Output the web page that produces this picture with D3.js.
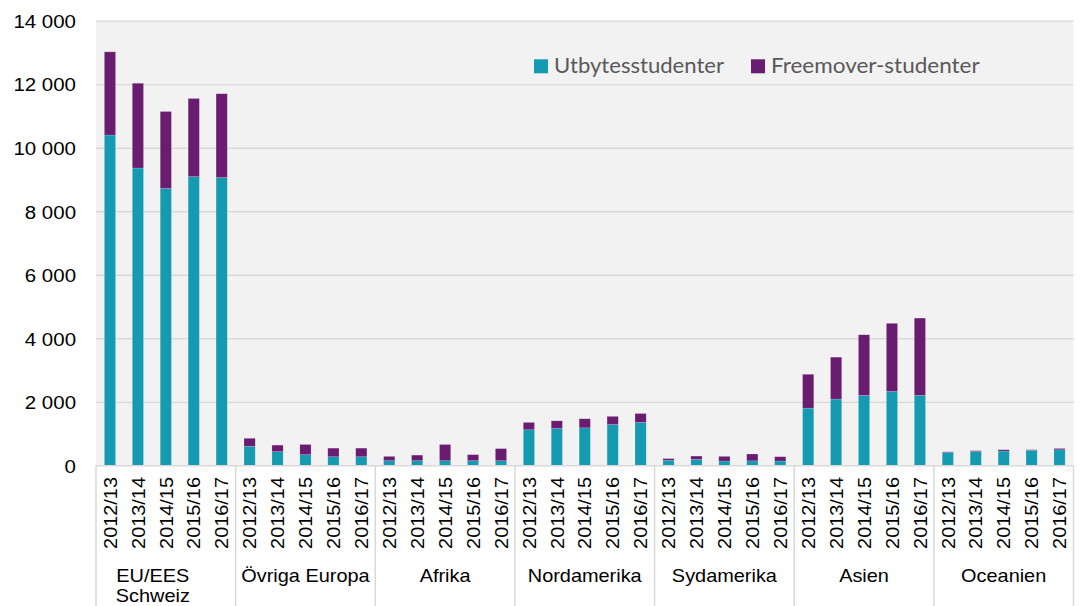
<!DOCTYPE html>
<html>
<head>
<meta charset="utf-8">
<script src="https://cdn.jsdelivr.net/npm/d3@7"></script>
<style>
	html, body { margin: 0; padding: 0; background: #fff; }
	svg { display: block; }
	text { font-family: "Liberation Sans", Arial, sans-serif; fill: #000; }
</style>
</head>
<body>
<svg id="main-vis"></svg>
<script>
// DATA
const regions = ['EU/EES Schweiz', 'Övriga Europa', 'Afrika', 'Nordamerika', 'Sydamerika', 'Asien', 'Oceanien']
const years = ['2012/13', '2013/14', '2014/15', '2015/16', '2016/17']
const series = ['Utbytesstudenter', 'Freemover-studenter']
const colors = ['#149bb1', '#6a1c71']

// one row per region, one value per year
const utbytes = [
	[10400, 9360, 8720, 9090, 9060],
	[600, 430, 335, 270, 270],
	[145, 145, 145, 145, 145],
	[1120, 1160, 1180, 1285, 1350],
	[155, 185, 135, 140, 135],
	[1800, 2085, 2200, 2325, 2200],
	[405, 435, 450, 470, 490]
]
const freemover = [
	[2620, 2670, 2420, 2460, 2640],
	[250, 205, 320, 270, 270],
	[135, 175, 510, 190, 380],
	[230, 240, 285, 255, 280],
	[55, 105, 145, 215, 135],
	[1065, 1320, 1910, 2145, 2435],
	[20, 25, 40, 20, 40]
]
const yTicks = [0, 2000, 4000, 6000, 8000, 10000, 12000, 14000]

function DOMLoad () {
	const width = 1080
	const height = 606
	const plot = { left: 96, right: 1073.5, top: 20.7, bottom: 465.3 }

	const svg = d3.select('svg#main-vis')
		.attr('width', width)
		.attr('height', height)

	// FLATTEN INTO ROWS
	const rows = regions.map((r, i) => years.map((y, j) => {
		return { key: `${i}-${j}`, region: r, year: y, Utbytesstudenter: utbytes[i][j], 'Freemover-studenter': freemover[i][j] }
	})).flat()

	const x = d3.scaleBand()
		.domain(rows.map(d => d.key))
		.range([plot.left, plot.right])
		.paddingInner(0.6)
		.paddingOuter(0.3)
	const slot = (plot.right - plot.left) / rows.length

	const y = d3.scaleLinear()
		.domain([0, 14000])
		.range([plot.bottom, plot.top])

	const fmt = d => d3.format(',')(d).replace(/,/g, ' ')

	// PLOT BACKGROUND
	svg.append('rect')
		.attr('x', plot.left)
		.attr('y', plot.top - 0.7)
		.attr('width', plot.right - plot.left)
		.attr('height', plot.bottom - plot.top + 0.7)
		.attr('fill', '#f2f2f2')

	// GRIDLINES + Y LABELS
	const yAxis = svg.append('g')
		.attr('transform', `translate(${plot.left},0)`)
		.call(d3.axisLeft(y).tickValues(yTicks).tickSize(-(plot.right - plot.left)).tickFormat(fmt))
	yAxis.select('.domain').remove()
	yAxis.selectAll('.tick line')
		.attr('stroke', '#d9d9d9')
		.attr('stroke-width', 1.3)
		.filter(d => d === 0).remove()
	yAxis.selectAll('.tick text')
		.attr('x', -20)
		.attr('dy', '0.36em')
		.style('font-family', '"Liberation Sans", Arial, sans-serif')
		.style('font-size', '18.8px')
		.attr('fill', '#000')
		.each(function () {
			this.setAttribute('textLength', this.getComputedTextLength() * 1.09)
			this.setAttribute('lengthAdjust', 'spacingAndGlyphs')
		})

	// STACKED BARS
	const stack = d3.stack().keys(series)(rows)
	svg.append('g').selectAll('g')
		.data(stack)
		.join('g')
		.attr('fill', (d, i) => colors[i])
		.selectAll('rect')
		.data(d => d)
		.join('rect')
		.attr('x', d => x(d.data.key))
		.attr('width', x.bandwidth())
		.attr('y', d => y(d[1]))
		.attr('height', d => y(d[0]) - y(d[1]))
		.attr('stroke', 'rgba(255,255,255,0.25)')
		.attr('stroke-width', 0.6)

	// X AXIS LINE + SEPARATORS
	svg.append('line')
		.attr('x1', plot.left).attr('x2', plot.right)
		.attr('y1', plot.bottom + 0.5).attr('y2', plot.bottom + 0.5)
		.attr('stroke', '#d9d9d9').attr('stroke-width', 1.5)

	const seps = d3.range(regions.length + 1).map(i => plot.left + i * years.length * slot)
	svg.append('g').selectAll('line')
		.data(seps)
		.join('line')
		.attr('x1', d => d).attr('x2', d => d)
		.attr('y1', plot.bottom).attr('y2', height)
		.attr('stroke', '#d9d9d9').attr('stroke-width', 1.5)

	// YEAR LABELS (ROTATED)
	svg.append('g').selectAll('text')
		.data(rows)
		.join('text')
		.attr('transform', d => `translate(${x(d.key) + x.bandwidth() / 2},477) rotate(-90)`)
		.attr('text-anchor', 'end')
		.attr('dy', '0.36em')
		.style('font-size', '18.6px')
		.text(d => d.year)
		.each(function () {
			this.setAttribute('textLength', this.getComputedTextLength() * 1.07)
			this.setAttribute('lengthAdjust', 'spacingAndGlyphs')
		})

	// REGION LABELS
	const regionLabels = svg.append('g').selectAll('text')
		.data(regions)
		.join('text')
		.attr('x', (d, i) => plot.left + (i + 0.5) * years.length * slot - (d.startsWith('EU') ? 13 : 0))
		.attr('y', 581.7)
		.attr('text-anchor', 'middle')
		.style('font-size', '18.6px')
	regionLabels.each(function (d) {
		const lines = d.startsWith('EU') ? d.split(' ') : [d]
		const t = d3.select(this)
		lines.forEach((l, k) => {
			t.append('tspan')
				.attr('x', t.attr('x'))
				.attr('dy', k ? 20 : 0)
				.text(l)
		})
	})
	regionLabels.selectAll('tspan').each(function () {
		this.setAttribute('textLength', this.getComputedTextLength() * 1.07)
		this.setAttribute('lengthAdjust', 'spacingAndGlyphs')
	})

	// LEGEND
	const legendX = [534, 751]
	const legend = svg.append('g').selectAll('g')
		.data(series)
		.join('g')
		.attr('transform', (d, i) => `translate(${legendX[i]},59.3)`)
	legend.append('rect')
		.attr('width', 14).attr('height', 14)
		.attr('fill', (d, i) => colors[i])
	legend.append('text')
		.attr('x', 20)
		.attr('y', 14)
		.style('font-family', 'Lato, "Open Sans", sans-serif')
		.style('font-size', '21.5px')
		.style('fill', '#595959')
		.attr('textLength', (d, i) => [170, 208.6][i])
		.attr('lengthAdjust', 'spacingAndGlyphs')
		.text(d => d)
}

if (document.readyState === 'loading') {
	document.addEventListener('DOMContentLoaded', DOMLoad)
} else {
	DOMLoad()
}
</script>
</body>
</html>
